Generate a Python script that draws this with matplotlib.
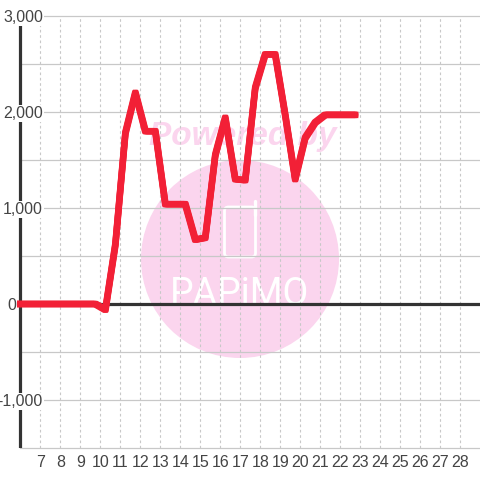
import matplotlib
matplotlib.use("Agg")
import matplotlib.pyplot as plt
from matplotlib.patches import Circle, FancyBboxPatch
from matplotlib.transforms import offset_copy

plt.rcParams['font.family'] = ['Liberation Sans', 'DejaVu Sans']

x_values = [5.75, 6.25, 6.75, 7.25, 7.75, 8.25, 8.75, 9.25, 9.75, 10.25, 10.75, 11.25, 11.75,
            12.25, 12.75, 13.25, 13.75, 14.25, 14.75, 15.25, 15.75, 16.25, 16.75, 17.25,
            17.75, 18.25, 18.75, 19.25, 19.75, 20.25, 20.75, 21.25, 21.75, 22.25, 22.75]
y_values = [0, 0, 0, 0, 0, 0, 0, 0, 0, -60, 620, 1780, 2200,
            1800, 1800, 1040, 1040, 1040, 670, 690, 1550, 1940, 1300, 1290,
            2250, 2600, 2600, 1970, 1300, 1730, 1890, 1970, 1970, 1970, 1970]
x_ticks = list(range(7, 29))
y_ticks = [-1000, 0, 1000, 2000, 3000]
y_labels = ['-1,000', '0', '1,000', '2,000', '3,000']
y_minor = [-500, 500, 1500, 2500]

S = 480
fig = plt.figure(figsize=(4.8, 4.8), dpi=100, facecolor='white')

# Full-figure pixel overlay for the watermark
bg = fig.add_axes([0, 0, 1, 1], zorder=0)
bg.set_xlim(0, S); bg.set_ylim(S, 0); bg.axis('off')
PINK = '#fbd5ee'
bg.add_patch(Circle((240, 259), 99, fc=PINK, ec='none'))
bg.text(242.5, 145, 'Powered by', ha='center', va='baseline', fontsize=24, fontweight='bold',
        fontstyle='italic', color=PINK)
bg.add_patch(FancyBboxPatch((224.5, 207), 31, 50, boxstyle='round,pad=0,rounding_size=4',
                            fc='none', ec='white', lw=2))
bg.plot([255, 255], [201, 215], color='white', lw=2.4, solid_capstyle='round')
bg.text(239.5, 305, 'PAPiMO', ha='center', va='baseline', fontsize=27, color='white',
        family=['Roboto', 'Liberation Sans'])

# Plot area spans px 17..480 horizontally, 16..448 vertically
X0 = 5.825
ax = fig.add_axes([17/S, (S-448)/S, (480-17)/S, (448-16)/S], zorder=1)
ax.patch.set_alpha(0)
ax.set_xlim(X0, 29)
ax.set_ylim(-1500, 3000)
for s in ax.spines.values():
    s.set_visible(False)

GRID = '#c8c8c8'
ax.set_xticks(x_ticks)
ax.set_xticklabels([str(v) for v in x_ticks], fontsize=11.5, color='#444444')
ax.set_yticks(y_ticks)
ax.set_yticklabels(y_labels, fontsize=11.5, color='#444444')
ax.tick_params(length=0)
ax.tick_params(axis='x', pad=5)

xmin_frac = (6 - X0) / (29 - X0)
for v in x_ticks:
    ax.axvline(v, color=GRID, lw=0.8, dashes=(2.4, 2.4), zorder=1)
for v in y_ticks + y_minor + [-1500]:
    ax.axhline(v, xmin=xmin_frac, color=GRID, lw=0.9, zorder=1, clip_on=False)

ax.axvline(6, color='#333333', lw=2.3, zorder=1.2)
ax.axhline(0, xmin=xmin_frac, color='#333333', lw=2.3, zorder=2)

# Square 6 px brush: the same line stroked at small offsets
for dx in (-1.5, 0, 1.5):
    for dy in (-1.5, 0, 1.5):
        ax.plot(x_values, y_values, color='#f22036', lw=2.5, solid_joinstyle='round',
                solid_capstyle='projecting', zorder=3,
                transform=offset_copy(ax.transData, fig=fig, x=dx, y=dy, units='dots'))
ax.set_xlim(X0, 29)
ax.set_ylim(-1500, 3000)

for tick, lab in zip(ax.yaxis.get_major_ticks(), y_labels):
    tick.set_pad(0.7 if lab == '0' else -18.7)
    tick.label1.set_bbox(dict(fc='white', ec='none', pad=0.6) if lab != '0' else None)

fig.savefig('out.png', dpi=100, facecolor='white')
